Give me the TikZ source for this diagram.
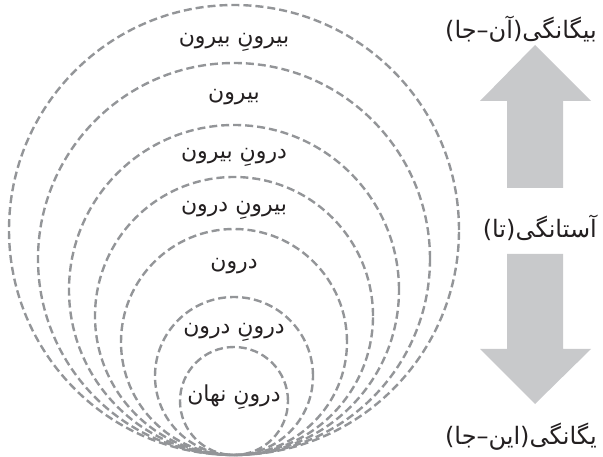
\documentclass[tikz,border=0pt]{standalone}
\usepackage{fontspec}
\TeXXeTstate=1
\newfontfamily\fafont[Script=Arabic]{DejaVu Sans}
\definecolor{dashgray}{HTML}{939598}
\definecolor{arrowgray}{HTML}{C8C9CB}
\definecolor{txtcol}{HTML}{231F20}
\begin{document}
\begin{tikzpicture}[x=1pt,y=-1pt,
  ring/.style={circle, draw=dashgray, line width=2.4pt, dash pattern=on 8pt off 4pt,
               inner sep=0pt, outer sep=0pt, anchor=south},
  lbl/.style={font=\fafont\fontsize{22}{24}\selectfont, text=txtcol, inner sep=0pt},
  sidelbl/.style={lbl, font=\fafont\fontsize{24}{26}\selectfont, anchor=east},
  bigarrow/.style={fill=arrowgray, draw=none}]
\useasboundingbox (0,0) rectangle (603,457);
\coordinate (B) at (234,455);
\node[ring, minimum size=450pt] (c1) at (B) {};
\node[ring, minimum size=392pt] (c2) at (B) {};
\node[ring, minimum size=330pt] (c3) at (B) {};
\node[ring, minimum size=278pt] (c4) at (B) {};
\node[ring, minimum size=226pt] (c5) at (B) {};
\node[ring, minimum size=158pt] (c6) at (B) {};
\node[ring, minimum size=108pt] (c7) at (B) {};
\node[lbl] (l1) at (234,42) {\beginR بیرونِ بیرون\endR};
\node[lbl] (l2) at (234,97) {\beginR بیرون\endR};
\node[lbl] (l3) at (234,157) {\beginR درونِ بیرون\endR};
\node[lbl] (l4) at (234,210) {\beginR بیرونِ درون\endR};
\node[lbl] (l5) at (234,266) {\beginR درون\endR};
\node[lbl] (l6) at (234,332) {\beginR درونِ درون\endR};
\node[lbl] (l7) at (234,397) {\beginR درونِ نهان\endR};
\fill[bigarrow] (535,45) -- (591,101) -- (563,101) -- (563,188) -- (507,188) -- (507,101) -- (480,101) -- cycle;
\fill[bigarrow] (507,254) -- (563,254) -- (563,349) -- (591,349) -- (535,404) -- (480,349) -- (507,349) -- cycle;
\node[sidelbl] (t1) at (597,29) {\beginR بیگانگی(آن–جا)\endR};
\node[sidelbl] (t2) at (597,228) {\beginR آستانگی(تا)\endR};
\node[sidelbl] (t3) at (597,437) {\beginR یگانگی(این–جا)\endR};
\end{tikzpicture}
\end{document}
